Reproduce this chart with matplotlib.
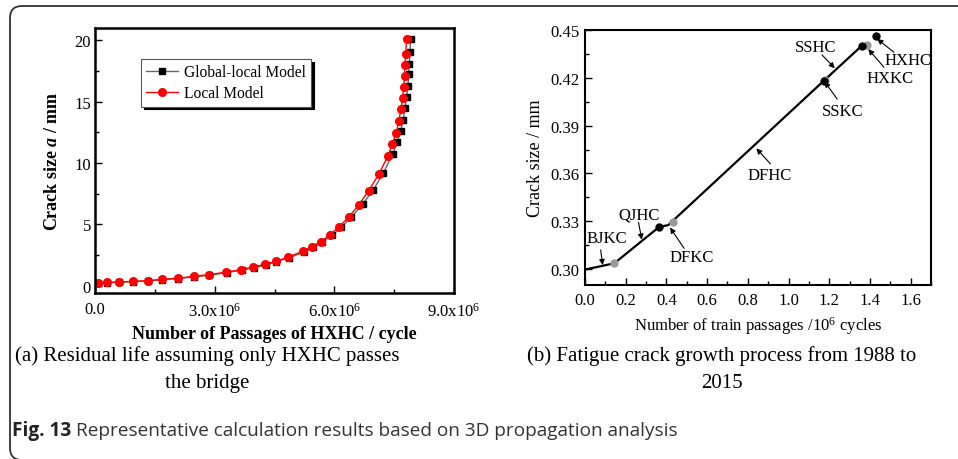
import matplotlib
matplotlib.use('Agg')
import matplotlib.pyplot as plt
from matplotlib.patches import PathPatch
from matplotlib.path import Path
from matplotlib.transforms import IdentityTransform
from matplotlib.ticker import MultipleLocator, FuncFormatter

plt.rcParams['font.family'] = ['Liberation Serif', 'DejaVu Serif']
plt.rcParams['mathtext.fontset'] = 'custom'
plt.rcParams['mathtext.rm'] = 'Liberation Serif'
plt.rcParams['mathtext.it'] = 'Liberation Serif:italic'
plt.rcParams['mathtext.bf'] = 'Liberation Serif:bold'
plt.rcParams['mathtext.bfit'] = 'Liberation Serif:bold:italic'

# (a) residual life, crack size (mm) vs passages of HXHC (x 10^6 cycles)
global_n = [0.067, 0.29, 0.60, 0.96, 1.33, 1.69, 2.07, 2.48, 2.85, 3.30, 3.68, 3.99,
            4.28, 4.55, 4.86, 5.23, 5.47, 5.70, 5.94, 6.17, 6.43, 6.72, 6.98, 7.23,
            7.47, 7.58, 7.66, 7.73, 7.77, 7.81, 7.85, 7.86, 7.88, 7.90, 7.91]
global_a = [0.19, 0.24, 0.27, 0.33, 0.38, 0.49, 0.57, 0.71, 0.84, 1.06, 1.25, 1.47,
            1.68, 1.95, 2.28, 2.71, 3.12, 3.56, 4.10, 4.75, 5.59, 6.68, 7.82, 9.20,
            10.75, 11.72, 12.59, 13.54, 14.49, 15.36, 16.28, 17.21, 18.10, 19.08, 20.08]
local_n = [0.067, 0.29, 0.60, 0.96, 1.33, 1.69, 2.07, 2.48, 2.85, 3.28, 3.65, 3.97,
           4.26, 4.54, 4.84, 5.21, 5.43, 5.66, 5.89, 6.12, 6.36, 6.61, 6.86, 7.11,
           7.34, 7.45, 7.55, 7.62, 7.67, 7.71, 7.74, 7.76, 7.77, 7.79, 7.81]
local_a = [0.24, 0.27, 0.30, 0.35, 0.41, 0.52, 0.60, 0.76, 0.90, 1.09, 1.30, 1.52,
           1.74, 1.98, 2.33, 2.80, 3.18, 3.58, 4.15, 4.80, 5.59, 6.57, 7.73, 9.06,
           10.53, 11.53, 12.46, 13.46, 14.41, 15.31, 16.20, 17.07, 17.97, 18.92, 20.08]

# (b) growth path 1988-2015 (x 10^6 cycles, mm)
path_n = [0.0, 0.144, 0.364, 0.409, 1.172, 1.359]
path_a = [0.2997, 0.3036, 0.3264, 0.3276, 0.4180, 0.4400]
black_n = [0.364, 1.172, 1.359, 1.428]
black_a = [0.3264, 0.4180, 0.4400, 0.4462]
gray_n = [0.144, 0.433, 1.177, 1.388]
gray_a = [0.3036, 0.3295, 0.4186, 0.4406]

# name, text position, arrow tail, arrow head
labels_b = [
    ('BJKC', (0.107, 0.3197), (0.077, 0.3120), (0.087, 0.3025)),
    ('QJHC', (0.267, 0.3340), (0.263, 0.3293), (0.279, 0.3184)),
    ('DFKC', (0.522, 0.3073), (0.487, 0.3130), (0.418, 0.3260)),
    ('DFHC', (0.907, 0.3590), (0.911, 0.3660), (0.842, 0.3757)),
    ('SSHC', (1.132, 0.4395), (1.165, 0.4343), (1.227, 0.4260)),
    ('SSKC', (1.264, 0.3990), (1.239, 0.4067), (1.177, 0.4176)),
    ('HXKC', (1.500, 0.4200), (1.469, 0.4266), (1.392, 0.4380)),
    ('HXHC', (1.588, 0.4310), (1.518, 0.4360), (1.436, 0.4444)),
]

fig = plt.figure(figsize=(9.58, 4.6), dpi=100)

# ---- panel (a)
ax1 = fig.add_axes([95 / 958, 166 / 460, 359 / 958, 265 / 460])
ax1.plot([n * 1e6 for n in global_n], global_a, color='#666666', lw=1,
         marker='s', ms=5, mfc='black', mec='black', label='Global-local Model')
ax1.plot([n * 1e6 for n in local_n], local_a, color='red', lw=1,
         marker='o', ms=5.5, mfc='red', mec='red', label='Local Model')
ax1.set_xlim(0, 9e6)
ax1.set_ylim(-0.6, 21)
ax1.xaxis.set_major_locator(MultipleLocator(3e6))
ax1.xaxis.set_minor_locator(MultipleLocator(1.5e6))
ax1.yaxis.set_major_locator(MultipleLocator(5))
ax1.yaxis.set_minor_locator(MultipleLocator(2.5))
ax1.xaxis.set_major_formatter(FuncFormatter(
    lambda v, p: '0.0' if v == 0 else '%.1fx10$^6$' % (v / 1e6)))
ax1.tick_params(which='both', direction='in', labelsize=12)
ax1.tick_params(which='major', length=5, width=1)
ax1.tick_params(which='minor', length=3, width=1)
ax1.tick_params(axis='x', pad=6)
ax1.tick_params(axis='y', pad=3)
for s in ax1.spines.values():
    s.set_linewidth(1.8)
ax1.set_xlabel('Number of Passages of HXHC / cycle', fontsize=13, fontweight='bold')
ax1.set_ylabel(r'Crack size $\mathbfit{a}$ / mm', fontsize=13, fontweight='bold')
ax1.xaxis.set_label_coords(0.5, -0.152)
ax1.xaxis.label.set_va('center')
ax1.yaxis.set_label_coords(-0.118, 0.5)
ax1.yaxis.label.set_va('center')
leg = ax1.legend(loc='upper left', bbox_to_anchor=(0.128, 0.883), fontsize=11.2,
                 fancybox=False, framealpha=1, edgecolor='#555555',
                 shadow={'color': 'black', 'alpha': 1},
                 handlelength=2.0, borderpad=0.35, labelspacing=0.3,
                 handletextpad=0.4, borderaxespad=0)
leg.get_frame().set_linewidth(0.8)

# ---- panel (b)
ax2 = fig.add_axes([585 / 958, 174 / 460, 346 / 958, 255 / 460])
ax2.plot(path_n, path_a, color='black', lw=1.6, zorder=2)
ax2.scatter(gray_n, gray_a, s=36, color='#999999', zorder=3, linewidths=0)
ax2.scatter(black_n, black_a, s=36, color='black', zorder=4, linewidths=0)
for name, txt, tail, head in labels_b:
    ax2.text(txt[0], txt[1], name, fontsize=12, ha='center', va='center')
    ax2.annotate('', xy=head, xytext=tail,
                 arrowprops=dict(arrowstyle='-|>', lw=0.8, color='black',
                                 mutation_scale=8, shrinkA=0, shrinkB=0))
ax2.set_xlim(0, 1.7)
ax2.set_ylim(0.29, 0.45)
ax2.xaxis.set_major_locator(MultipleLocator(0.2))
ax2.xaxis.set_minor_locator(MultipleLocator(0.1))
ax2.yaxis.set_major_locator(MultipleLocator(0.03))
ax2.yaxis.set_minor_locator(MultipleLocator(0.015))
ax2.xaxis.set_major_formatter(FuncFormatter(lambda v, p: '%.1f' % v))
ax2.yaxis.set_major_formatter(FuncFormatter(lambda v, p: '%.2f' % v))
ax2.tick_params(which='both', direction='in', labelsize=12)
ax2.tick_params(which='major', length=5, width=1)
ax2.tick_params(which='minor', length=3, width=1)
ax2.tick_params(axis='x', pad=5)
ax2.tick_params(axis='y', pad=4)
for s in ax2.spines.values():
    s.set_linewidth(1.5)
ax2.set_xlabel('Number of train passages /10$^6$ cycles', fontsize=12)
ax2.set_ylabel('Crack size / mm', fontsize=13)
ax2.xaxis.set_label_coords(0.5, -0.157)
ax2.xaxis.label.set_va('center')
ax2.yaxis.set_label_coords(-0.142, 0.5)
ax2.yaxis.label.set_va('center')

# ---- captions
fig.text(207 / 958, 1 - 356 / 460, '(a) Residual life assuming only HXHC passes',
         fontsize=15, ha='center', va='center')
fig.text(207 / 958, 1 - 384 / 460, 'the bridge', fontsize=15, ha='center', va='center')
fig.text(722 / 958, 1 - 356 / 460, '(b) Fatigue crack growth process from 1988 to',
         fontsize=15, ha='center', va='center')
fig.text(722 / 958, 1 - 384 / 460, '2015', fontsize=15, ha='center', va='center')

t1 = fig.text(12 / 958, 1 - 431 / 460, 'Fig. 13', fontsize=13.7, fontweight='bold',
              family='Open Sans', color='#222222', va='center')
r = fig.canvas.get_renderer()
bb = t1.get_window_extent(renderer=r)
fig.text((bb.x1 + 5) / 958, 1 - 431 / 460,
         'Representative calculation results based on 3D propagation analysis',
         fontsize=13.7, family='Open Sans', color='#333333', va='center')

# open frame: left side, rounded corners, top edge running off the right
frame = Path([(22, -1), (10, -1), (10, 11), (10, 441), (10, 453), (22, 453), (958, 453)],
             [Path.MOVETO, Path.CURVE3, Path.CURVE3, Path.LINETO,
              Path.CURVE3, Path.CURVE3, Path.LINETO])
fig.add_artist(PathPatch(frame, transform=IdentityTransform(), fill=False,
                         edgecolor='#333333', lw=1.3))

fig.savefig('out.png', dpi=100)
